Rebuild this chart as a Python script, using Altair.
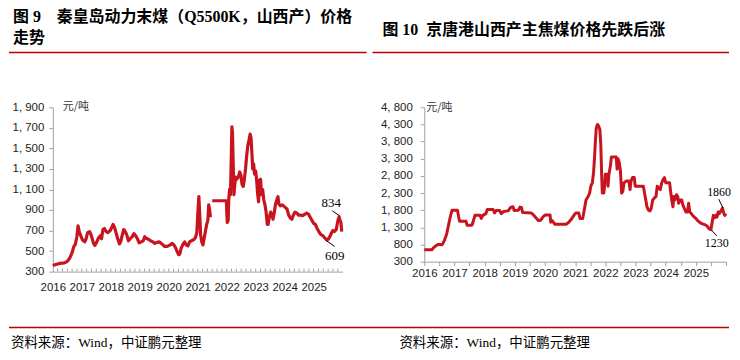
import altair as alt
import pandas as pd

# ---------------- data: left panel (秦皇岛动力末煤 Q5500K 山西产, 元/吨) ----------------
L_T = [2016.00, 2016.10, 2016.25, 2016.40, 2016.50, 2016.58, 2016.66, 2016.72, 2016.78, 2016.83,
       2016.87, 2016.91, 2016.95, 2017.02, 2017.10, 2017.15, 2017.20, 2017.27, 2017.33, 2017.40,
       2017.45, 2017.52, 2017.58, 2017.64, 2017.68, 2017.73, 2017.78, 2017.84, 2017.90, 2017.98,
       2018.05, 2018.08, 2018.13, 2018.18, 2018.24, 2018.30, 2018.34, 2018.40, 2018.45, 2018.50,
       2018.55, 2018.61, 2018.67, 2018.74, 2018.80, 2018.86, 2018.92, 2018.98, 2019.05, 2019.12,
       2019.17, 2019.22, 2019.30, 2019.38, 2019.45, 2019.52, 2019.60, 2019.68, 2019.74, 2019.80,
       2019.86, 2019.95, 2020.05, 2020.12, 2020.18, 2020.24, 2020.30, 2020.34, 2020.38, 2020.43,
       2020.50, 2020.55, 2020.60, 2020.66, 2020.72, 2020.78, 2020.86, 2020.92, 2020.97, 2021.00,
       2021.04, 2021.07, 2021.10, 2021.14, 2021.18, 2021.22, 2021.27, 2021.31, 2021.35, 2021.38,
       2021.41, 2021.44,
       2021.50, 2021.99, 2022.00, 2022.02, 2022.05, 2022.07, 2022.10, 2022.13, 2022.15, 2022.18,
       2022.20, 2022.22, 2022.25, 2022.28, 2022.31, 2022.35, 2022.40, 2022.45, 2022.49, 2022.53,
       2022.57, 2022.61, 2022.65, 2022.69, 2022.73, 2022.77, 2022.81, 2022.84, 2022.87, 2022.90,
       2022.93, 2022.96, 2023.00, 2023.03, 2023.07, 2023.10, 2023.13, 2023.17, 2023.20, 2023.24,
       2023.28, 2023.32, 2023.36, 2023.40, 2023.43, 2023.47, 2023.52, 2023.56, 2023.60, 2023.64,
       2023.68, 2023.73, 2023.77, 2023.80, 2023.85, 2023.92, 2024.00, 2024.08, 2024.14, 2024.20,
       2024.25, 2024.30, 2024.36, 2024.42, 2024.48, 2024.55, 2024.62, 2024.70, 2024.76, 2024.82,
       2024.88, 2024.94, 2025.00, 2025.06, 2025.12, 2025.18, 2025.25, 2025.32, 2025.38, 2025.45,
       2025.50, 2025.56, 2025.62, 2025.67, 2025.72, 2025.78, 2025.84, 2025.88, 2025.91, 2025.94,
       2025.97]
L_V = [360, 370, 380, 385, 400, 430, 480, 540, 570, 640,
       745, 690, 660, 610, 590, 620, 680, 690, 650, 580,
       555, 590, 630, 650, 620, 710, 720, 690, 680, 700,
       740, 760, 730, 680, 620, 570, 590, 660, 710, 690,
       660, 600, 620, 640, 670, 650, 620, 580, 590, 600,
       640, 625, 615, 600, 590, 575, 585, 590, 575, 560,
       545, 545, 560, 575, 560, 530, 490, 465, 470, 530,
       570, 590, 560, 550, 590, 600, 610, 630, 680, 850,
       1030, 850, 660, 590, 560, 620, 700, 760, 800, 950,
       900, 830,
       990, 990, 900, 780, 800, 1000, 1100, 1050, 1300, 1710,
       1650, 1400, 1050, 1150, 1220, 1200, 1220, 1270, 1240, 1150,
       1130, 1200, 1300, 1430, 1530, 1580, 1640, 1600, 1450, 1300,
       1350, 1250, 1280, 1200, 1050, 980, 1190, 1200, 1050, 1100,
       1000, 950, 880, 760, 760, 830, 880, 850, 810, 870,
       950, 1000, 1030, 960, 940, 950, 930, 910, 850, 820,
       810, 850, 880, 870, 850, 850, 845, 860, 870, 860,
       830, 800, 770, 760, 720, 690, 660, 650, 630, 609,
       615, 640, 680, 700, 690, 710, 800, 834, 800, 780,
       690]
L_SEG = [1] * 92 + [2] * (len(L_T) - 92)

L_ANN_T = [2025.61, 2025.73]
L_ANN_V = [972, 455]
L_ANN_TEXT = ["834", "609"]
L_LEAD_T = [2025.645, 2025.44]
L_LEAD_V = [892, 601]
L_LEAD_T2 = [2025.897, 2025.725]
L_LEAD_V2 = [843, 545]

L_YTICKS = list(range(300, 2000, 200))
YEARS = list(range(2016, 2026))

# ---------------- data: right panel (京唐港山西产主焦煤, 元/吨) ----------------
R_T = [2016.00, 2016.25, 2016.30, 2016.38, 2016.45, 2016.52, 2016.58, 2016.62, 2016.68, 2016.74,
       2016.80, 2016.86, 2016.92, 2017.10, 2017.14, 2017.17, 2017.38, 2017.42, 2017.58, 2017.63,
       2017.68, 2017.85, 2017.89, 2017.94, 2018.04, 2018.09, 2018.28, 2018.33, 2018.38, 2018.50,
       2018.55, 2018.62, 2018.78, 2018.86, 2018.94, 2018.98, 2019.12, 2019.17, 2019.22, 2019.26,
       2019.55, 2019.62, 2019.72, 2019.78, 2019.86, 2019.93, 2020.00, 2020.17, 2020.19, 2020.24,
       2020.30, 2020.34, 2020.70, 2020.78, 2020.86, 2020.92, 2020.98, 2021.03, 2021.12, 2021.16,
       2021.25, 2021.30, 2021.36, 2021.43, 2021.48, 2021.52, 2021.57, 2021.61, 2021.64, 2021.67,
       2021.70, 2021.74, 2021.78, 2021.82, 2021.85, 2021.88, 2021.90, 2021.95, 2021.98, 2022.00,
       2022.06, 2022.09, 2022.12, 2022.17, 2022.20, 2022.36, 2022.39, 2022.42, 2022.46, 2022.50,
       2022.54, 2022.58, 2022.62, 2022.70, 2022.78, 2022.82, 2022.85, 2022.90, 2022.96, 2022.99,
       2023.26, 2023.32, 2023.38, 2023.43, 2023.48, 2023.52, 2023.57, 2023.62, 2023.68, 2023.72,
       2023.77, 2023.82, 2023.87, 2023.92, 2023.96, 2024.00, 2024.13, 2024.17, 2024.21, 2024.24,
       2024.27, 2024.31, 2024.36, 2024.40, 2024.43, 2024.48, 2024.53, 2024.57, 2024.62, 2024.67,
       2024.72, 2024.76, 2024.80, 2024.85, 2024.92, 2025.00, 2025.08, 2025.15, 2025.22, 2025.30,
       2025.38, 2025.44, 2025.50, 2025.54, 2025.58, 2025.62, 2025.66, 2025.70, 2025.74, 2025.78,
       2025.83, 2025.88, 2025.93, 2025.96, 2026.00]
R_V = [650, 650, 700, 760, 800, 800, 790, 830, 950, 1100,
       1350, 1600, 1800, 1800, 1600, 1480, 1480, 1360, 1360, 1500,
       1650, 1650, 1560, 1650, 1700, 1820, 1820, 1720, 1790, 1790,
       1700, 1760, 1780, 1880, 1900, 1790, 1800, 1890, 1880, 1730,
       1720, 1660, 1560, 1500, 1510, 1600, 1660, 1660, 1450, 1500,
       1420, 1390, 1390, 1440, 1520, 1600, 1680, 1720, 1720, 1560,
       1560, 1800, 2100, 2200, 2300, 2500, 2600, 2900, 3300, 3800,
       4200, 4300, 4250, 4150, 3700, 2800, 2300, 2300, 2550, 2850,
       2850, 2500, 2850, 3100, 3350, 3350, 3000, 3300, 3200, 2950,
       2300, 2350, 2600, 2650, 2650, 2400, 2650, 2750, 2750, 2500,
       2500, 2200, 1900, 1800, 1780, 1850, 2100, 2150, 2200, 2500,
       2450, 2400, 2600, 2700, 2750, 2600, 2600, 2300, 2050, 1900,
       2200, 2100, 2250, 2200, 2000, 2100, 2100, 1950, 1850, 1750,
       1750, 2000, 1750, 1700, 1620, 1560, 1480, 1430, 1400, 1380,
       1330, 1260, 1230, 1450, 1650, 1580, 1650, 1600, 1750, 1700,
       1780, 1860, 1700, 1650, 1700]

R_ANN_T = [2025.77, 2025.69]
R_ANN_V = [2341, 832]
R_ANN_TEXT = ["1860", "1230"]
R_LEAD_T = [2025.76, 2025.52]
R_LEAD_V = [2121, 1220]
R_LEAD_T2 = [2025.90, 2025.69]
R_LEAD_V2 = [1860, 1055]

R_YTICKS = list(range(300, 5000, 500))

TITLE_L1 = "图 9　秦皇岛动力末煤（Q5500K，山西产）价格"
TITLE_L2 = "走势"
TITLE_R = "图 10\u00a0\u00a0京唐港山西产主焦煤价格先跌后涨"
SOURCE = "资料来源：Wind，中证鹏元整理"
UNIT = "元/吨"

LINE_RED = "#C8141E"
RULE_RED = "#C00000"
AXIS_GRAY = "#A0A0A0"
LABEL_FONT = "Liberation Sans"
CJK = "Noto Sans CJK SC"
TITLE_FONT = "Liberation Serif, Noto Sans CJK SC"

LW, LH = 291, 165
RW, RH = 303, 155

dummy = pd.DataFrame({"d": [0]})

y_label_expr = "replace(format(datum.value, ','), ',', ', ')"


def text_at(x, y, txt, size, font, weight="normal", align="left", color="#000"):
    return alt.Chart(dummy).mark_text(
        text=txt, fontSize=size, font=font, fontWeight=weight, align=align,
        baseline="middle", color=color
    ).encode(x=alt.value(x), y=alt.value(y))


def rule_at(x1, x2, y, color=RULE_RED, w=1.5):
    return alt.Chart(dummy).mark_rule(color=color, strokeWidth=w).encode(
        x=alt.value(x1), x2=alt.value(x2), y=alt.value(y))


# ---------------- left panel ----------------
ldf = pd.DataFrame({"t": L_T, "v": L_V, "seg": L_SEG})
lx = alt.X("t:Q", scale=alt.Scale(domain=[2016, 2026], nice=False, zero=False),
           axis=alt.Axis(values=YEARS, tickCount=200, labelExpr="format(datum.value, 'd')", title=None,
                         ticks=False, labelPadding=10, grid=False, labelOverlap=False, labelFlush=False,
                         domainColor=AXIS_GRAY, labelFont=LABEL_FONT, labelFontSize=11.5,
                         labelColor="#222"))
ly = alt.Y("v:Q", scale=alt.Scale(domain=[300, 1900], nice=False, zero=False),
           axis=alt.Axis(values=L_YTICKS, tickCount=200, labelExpr=y_label_expr, title=None, grid=False,
                         tickSize=4, tickColor=AXIS_GRAY, domainColor=AXIS_GRAY, labelOverlap=False,
                         labelFlush=False,
                         labelPadding=5, labelFont=LABEL_FONT, labelFontSize=11.5,
                         labelColor="#222"))

l_line = alt.Chart(ldf).mark_line(color=LINE_RED, strokeWidth=3.2, strokeJoin="round").encode(
    x=lx, y=ly, detail="seg:N")

l_tick_df = pd.DataFrame({"t": [2016 + k / 6 for k in range(1, 60)]})
l_ticks = alt.Chart(l_tick_df).mark_rule(color=AXIS_GRAY, strokeWidth=1).encode(
    x=alt.X("t:Q"), y=alt.value(LH), y2=alt.value(LH - 3))

l_ann = alt.Chart(pd.DataFrame({"t": L_ANN_T, "v": L_ANN_V, "s": L_ANN_TEXT})).mark_text(
    font="Liberation Serif", fontSize=13, color="#000", align="center", baseline="middle"
).encode(x="t:Q", y="v:Q", text="s:N")
l_lead = alt.Chart(pd.DataFrame({"t": L_LEAD_T, "v": L_LEAD_V, "t2": L_LEAD_T2, "v2": L_LEAD_V2})).mark_rule(
    color="#000", strokeWidth=1).encode(x="t:Q", y="v:Q", x2="t2:Q", y2="v2:Q")

left = alt.layer(
    l_line, l_ticks, l_lead, l_ann,
    text_at(10, 0, UNIT, 11, CJK, color="#333"),
    text_at(-40, -91, TITLE_L1, 16, TITLE_FONT, weight="bold"),
    text_at(-40, -70, TITLE_L2, 16, TITLE_FONT, weight="bold"),
    rule_at(-44, 315, -55),
    rule_at(-44, 679, 221),
    text_at(-42, 237, SOURCE, 13.5, TITLE_FONT),
).properties(width=LW, height=LH)

# ---------------- right panel ----------------
rdf = pd.DataFrame({"t": R_T, "v": R_V})
r_xticks = [2016 + k / 2 for k in range(0, 21)]
rx = alt.X("t:Q", scale=alt.Scale(domain=[2016, 2026], nice=False, zero=False),
           axis=alt.Axis(values=r_xticks, tickCount=200,
                         labelExpr="datum.value % 1 == 0 && datum.value < 2026 ? format(datum.value, 'd') : ''",
                         title=None, tickSize=4, tickColor=AXIS_GRAY, labelPadding=2, grid=False,
                         domainColor=AXIS_GRAY, labelFont=LABEL_FONT, labelFontSize=11.5,
                         labelColor="#222", labelOverlap=False, labelFlush=False))
ry = alt.Y("v:Q", scale=alt.Scale(domain=[300, 4800], nice=False, zero=False),
           axis=alt.Axis(values=R_YTICKS, tickCount=200, labelExpr=y_label_expr, title=None, grid=False,
                         tickSize=4, tickColor=AXIS_GRAY, domainColor=AXIS_GRAY, labelOverlap=False,
                         labelFlush=False,
                         labelPadding=8, labelFont=LABEL_FONT, labelFontSize=11.5,
                         labelColor="#222"))

r_line = alt.Chart(rdf).mark_line(color=LINE_RED, strokeWidth=3, strokeJoin="round").encode(x=rx, y=ry)
r_ann = alt.Chart(pd.DataFrame({"t": R_ANN_T, "v": R_ANN_V, "s": R_ANN_TEXT})).mark_text(
    font="Liberation Serif", fontSize=12, color="#000", align="center", baseline="middle"
).encode(x="t:Q", y="v:Q", text="s:N")
r_lead = alt.Chart(pd.DataFrame({"t": R_LEAD_T, "v": R_LEAD_V, "t2": R_LEAD_T2, "v2": R_LEAD_V2})).mark_rule(
    color="#000", strokeWidth=1).encode(x="t:Q", y="v:Q", x2="t2:Q", y2="v2:Q")

right = alt.layer(
    r_line, r_lead, r_ann,
    text_at(2, 1, UNIT, 11, CJK, color="#333"),
    text_at(-42, -78, TITLE_R, 16, TITLE_FONT, weight="bold"),
    rule_at(-52, 306, -55),
    text_at(-25, 237, SOURCE, 13.5, TITLE_FONT),
).properties(width=RW, height=RH)

chart = (
    alt.hconcat(left, right, spacing=82, bounds="flush", padding=0)
    .configure_view(stroke=None)
    .configure_axis(labelOverlap=False, labelFlush=False)
)

chart.save("out.html", embed_options={"renderer": "svg", "actions": False})
